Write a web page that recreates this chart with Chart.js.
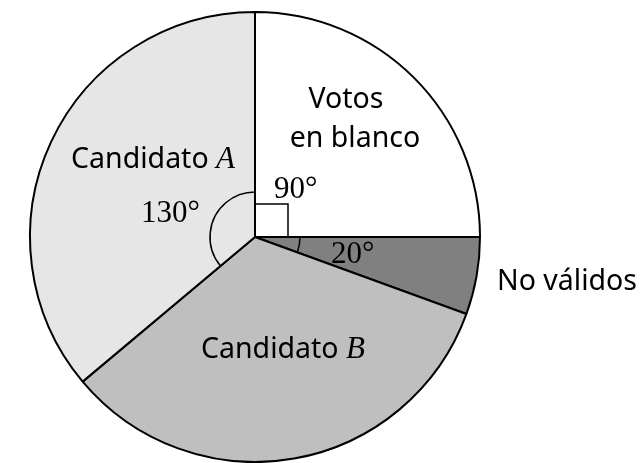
<!DOCTYPE html>
<html>
<head>
<meta charset="utf-8">
<script src="https://cdn.jsdelivr.net/npm/chart.js@4"></script>
<style>
  body { margin: 0; background: #fff; }
</style>
</head>
<body>
<canvas id="pie" width="641" height="463"></canvas>
<script>
// slices clockwise from the top, values are degrees
const categories = ['Votos en blanco', 'No válidos', 'Candidato B', 'Candidato A'];
const degrees = [90, 20, 120, 130];
const fills = ['#ffffff', '#808080', '#bfbfbf', '#e6e6e6'];

const SANS = '"Noto Sans", sans-serif';
const SERIF = '"Liberation Serif", serif';
const SANS_SIZE = '28.5px ';
const ITALIC = 'italic 31px ';

// text labels and angle marks, placed relative to the pie centre
const annotations = {
    id: 'annotations',
    afterDatasetsDraw(chart) {
        const ctx = chart.ctx;
        const arcs = chart.getDatasetMeta(0).data;
        const cx = arcs[0].x, cy = arcs[0].y;

        ctx.save();
        ctx.strokeStyle = '#000';
        ctx.lineWidth = 1.5;

        // right angle box for the 90° slice
        ctx.strokeRect(cx, cy - 33, 33, 33);

        // arcs for 20° and 130°
        [1, 3].forEach(i => {
            ctx.beginPath();
            ctx.arc(cx, cy, 45, arcs[i].startAngle, arcs[i].endAngle);
            ctx.stroke();
        });

        ctx.fillStyle = '#000';
        ctx.textBaseline = 'alphabetic';

        ctx.font = SANS_SIZE + SANS;
        ctx.textAlign = 'center';
        ctx.fillText('Votos', cx + 91, cy - 129);
        ctx.fillText('en blanco', cx + 100, cy - 90);

        ctx.textAlign = 'left';
        ctx.fillText('No válidos', cx + 242, cy + 53);

        // "Candidato A" with italic serif letter
        ctx.textAlign = 'right';
        ctx.font = ITALIC + SERIF;
        const wA = ctx.measureText('A').width;
        ctx.fillText('A', cx - 20, cy - 69);
        ctx.font = SANS_SIZE + SANS;
        ctx.fillText('Candidato ', cx - 20 - wA, cy - 69);

        // "Candidato B"
        ctx.textAlign = 'left';
        ctx.font = SANS_SIZE + SANS;
        const wC = ctx.measureText('Candidato ').width;
        ctx.fillText('Candidato ', cx - 54, cy + 121);
        ctx.font = ITALIC + SERIF;
        ctx.fillText('B', cx - 54 + wC, cy + 121);

        ctx.font = '31px ' + SERIF;
        ctx.textAlign = 'right';
        ctx.fillText(degrees[3] + '°', cx - 55, cy - 15);
        ctx.textAlign = 'left';
        ctx.fillText(degrees[0] + '°', cx + 19, cy - 39);
        ctx.fillText(degrees[1] + '°', cx + 76, cy + 26);

        ctx.restore();
    }
};

new Chart(document.getElementById('pie').getContext('2d'), {
    type: 'pie',
    data: {
        labels: categories,
        datasets: [{
            data: degrees,
            backgroundColor: fills,
            borderColor: '#000',
            borderWidth: 2
        }]
    },
    options: {
        responsive: false,
        animation: false,
        layout: { padding: { left: 29, right: 160, top: 11, bottom: 0 } },
        plugins: {
            legend: { display: false },
            tooltip: { enabled: false }
        }
    },
    plugins: [annotations]
});
</script>
</body>
</html>
